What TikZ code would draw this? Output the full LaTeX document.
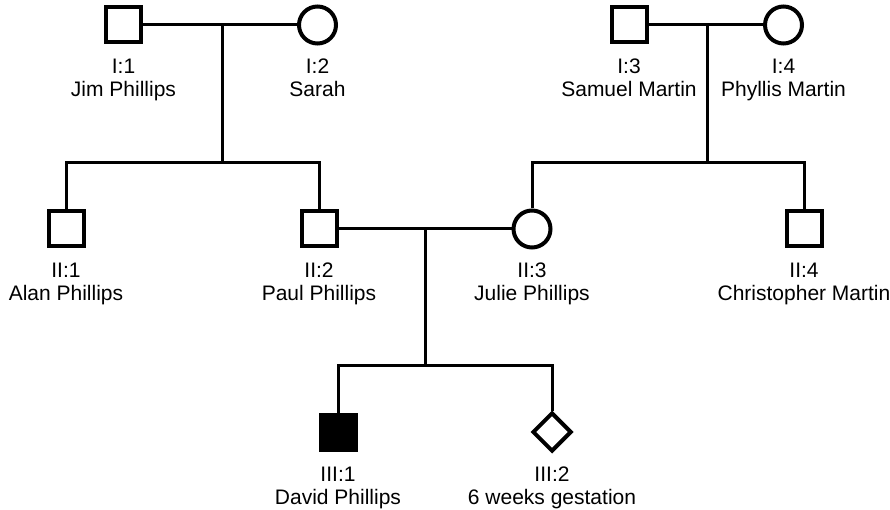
\documentclass[tikz,border=0pt]{standalone}
\usepackage{fontspec}
\setmainfont{Liberation Sans}
\usetikzlibrary{shapes.geometric}
\begin{document}
\begin{tikzpicture}[x=1pt,y=-1pt,
  male/.style={draw=black,line width=4pt,rectangle,minimum size=35pt,inner sep=0pt,fill=white},
  affected/.style={male,fill=black},
  female/.style={draw=black,line width=4pt,circle,minimum size=37pt,inner sep=0pt,fill=white},
  unknownsex/.style={draw=black,line width=4pt,diamond,minimum width=39pt,minimum height=39pt,inner sep=0pt,fill=white},
  lab/.style={anchor=north,inner sep=0pt,align=center,font=\fontsize{21}{22.5}\selectfont},
  conn/.style={draw=black,line width=3pt}]
\useasboundingbox (0,0) rectangle (890,510);
% junction coordinates
\coordinate (m1) at (222,25);
\coordinate (s1) at (222,163);
\coordinate (m2) at (707,25);
\coordinate (s2) at (707,163);
\coordinate (m3) at (425,229);
\coordinate (s3) at (425,365);
% individuals
\node[male] (I1) at (123.5,25) {};
\node[female] (I2) at (317.5,25) {};
\node[male] (I3) at (629,25) {};
\node[female] (I4) at (783.5,25) {};
\node[male] (II1) at (66,229) {};
\node[male] (II2) at (319,229) {};
\node[female] (II3) at (532,229) {};
\node[male] (II4) at (804,229) {};
\node[affected] (III1) at (338,432) {};
\node[unknownsex] (III2) at (552,432) {};
% connectors
\draw[conn] (I1.east) -- (I2.west);
\draw[conn] (m1) -- (s1);
\draw[conn] (II1.north) -- (II1.north |- s1) -- (II2.north |- s1) -- (II2.north);
\draw[conn] (I3.east) -- (I4.west);
\draw[conn] (m2) -- (s2);
\draw[conn] (II3.north) -- (II3.north |- s2) -- (II4.north |- s2) -- (II4.north);
\draw[conn] (II2.east) -- (II3.west);
\draw[conn] (m3) -- (s3);
\draw[conn] (III1.north) -- (III1.north |- s3) -- (III2.north |- s3) -- (III2.north);
% labels
\node[lab] (I1l) at ([yshift=-34pt]I1.center) {I:1\\Jim Phillips};
\node[lab] (I2l) at ([yshift=-34pt]I2.center) {I:2\\Sarah};
\node[lab] (I3l) at ([yshift=-34pt]I3.center) {I:3\\Samuel Martin};
\node[lab] (I4l) at ([yshift=-34pt]I4.center) {I:4\\Phyllis Martin};
\node[lab] (II1l) at ([yshift=-34pt]II1.center) {II:1\\Alan Phillips};
\node[lab] (II2l) at ([yshift=-34pt]II2.center) {II:2\\Paul Phillips};
\node[lab] (II3l) at ([yshift=-34pt]II3.center) {II:3\\Julie Phillips};
\node[lab] (II4l) at ([yshift=-34pt]II4.center) {II:4\\Christopher Martin};
\node[lab] (III1l) at ([yshift=-35pt]III1.center) {III:1\\David Phillips};
\node[lab] (III2l) at ([yshift=-35pt]III2.center) {III:2\\6 weeks gestation};
\end{tikzpicture}
\end{document}
